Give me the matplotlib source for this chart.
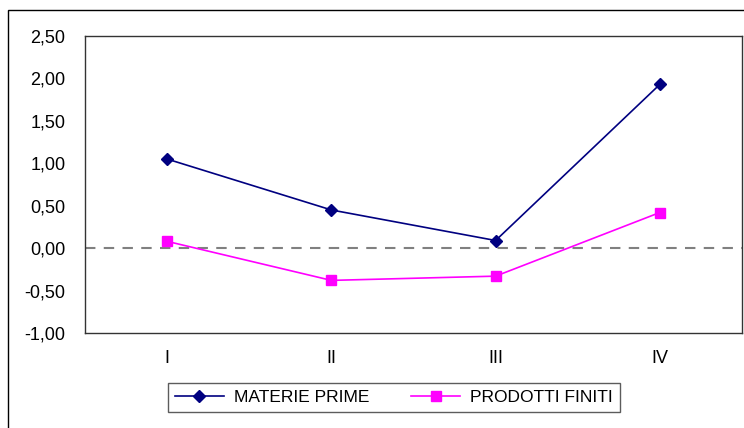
import matplotlib
matplotlib.use('Agg')
import matplotlib.pyplot as plt
from matplotlib.patches import Rectangle
from matplotlib.ticker import FuncFormatter

plt.rcParams['font.family'] = ['Liberation Sans', 'DejaVu Sans']

# trimestri e variazioni percentuali
trimestri = ['I', 'II', 'III', 'IV']
materie_prime = [1.05, 0.45, 0.09, 1.93]
prodotti_finiti = [0.08, -0.38, -0.33, 0.42]

fig = plt.figure(figsize=(7.44, 4.28), dpi=100)
ax = fig.add_axes([85 / 744, 1 - 333 / 428, (742 - 85) / 744, (333 - 36) / 428])

# cornice esterna del grafico
fig.patches.append(Rectangle((8 / 744, -0.1), 1.2, 1.1 - 10 / 428, transform=fig.transFigure,
                             fill=False, edgecolor='black', linewidth=1.0, clip_on=False))

x = range(len(trimestri))
ax.plot(x, materie_prime, color='#000080', linewidth=1.2, marker='D', markersize=6,
        markerfacecolor='#000080', markeredgecolor='#000080', label='MATERIE PRIME')
ax.plot(x, prodotti_finiti, color='#FF00FF', linewidth=1.2, marker='s', markersize=6.5,
        markerfacecolor='#FF00FF', markeredgecolor='#FF00FF', label='PRODOTTI FINITI')
ax.axhline(0, color='#808080', linewidth=1.5, linestyle=(0, (5, 4)), zorder=0)

ax.set_xlim(-0.5, 3.5)
ax.set_ylim(-1.0, 2.5)
ax.set_yticks([-1.0, -0.5, 0.0, 0.5, 1.0, 1.5, 2.0, 2.5])
ax.yaxis.set_major_formatter(FuncFormatter(lambda v, p: ('%.2f' % v).replace('.', ',')))
ax.set_xticks(list(x))
ax.set_xticklabels(trimestri)
ax.tick_params(axis='both', length=0, labelsize=13, pad=14)
ax.tick_params(axis='x', pad=12)
for s in ax.spines.values():
    s.set_linewidth(1.0)
    s.set_color('#333333')

leg = ax.legend(loc='upper left', bbox_to_anchor=(168 / 744, 1 - 414 / 428, (620 - 168) / 744, 31 / 428),
                bbox_transform=fig.transFigure, ncol=2, mode='expand', frameon=True, fancybox=False,
                fontsize=12.5, handlelength=2.8, borderaxespad=0, columnspacing=2.5, borderpad=0.4,
                handletextpad=0.6)
leg.get_frame().set_edgecolor('#333333')
leg.get_frame().set_linewidth(1.0)

fig.savefig('out.png', dpi=100)
